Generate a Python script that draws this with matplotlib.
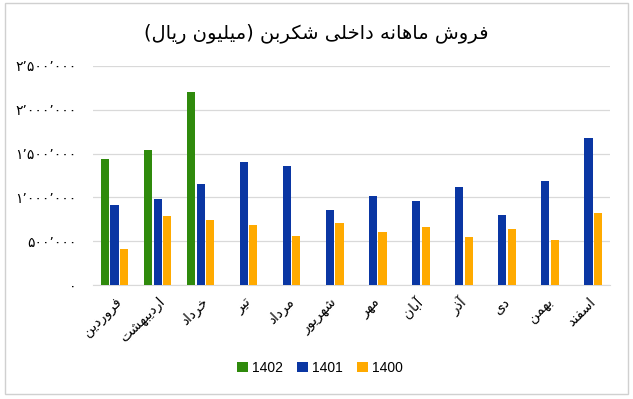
import matplotlib
matplotlib.use("Agg")
import matplotlib.pyplot as plt
import numpy as np
from matplotlib.patches import Rectangle


# داده‌ها: فروش ماهانه (میلیون ریال)
MONTHS = ["فروردین", "اردیبهشت", "خرداد", "تیر", "مرداد", "شهریور",
          "مهر", "آبان", "آذر", "دی", "بهمن", "اسفند"]
SALES_1402 = [1438000, 1541000, 2207000, np.nan, np.nan, np.nan,
              np.nan, np.nan, np.nan, np.nan, np.nan, np.nan]
SALES_1401 = [913000, 985000, 1157000, 1404000, 1362000, 856000,
              1016000, 959000, 1119000, 799000, 1191000, 1682000]
SALES_1400 = [414000, 788000, 742000, 685000, 559000, 711000,
              605000, 662000, 548000, 639000, 517000, 825000]
SERIES_NAMES = ["1402", "1401", "1400"]
Y_TICKS = [0, 500000, 1000000, 1500000, 2000000, 2500000]
Y_TICK_LABELS = ["۰", "۵۰۰٬۰۰۰", "۱٬۰۰۰٬۰۰۰", "۱٬۵۰۰٬۰۰۰", "۲٬۰۰۰٬۰۰۰", "۲٬۵۰۰٬۰۰۰"]
TITLE = "فروش ماهانه داخلی شکربن (میلیون ریال)"

COLORS = ["#2F8A0C", "#0A36A3", "#FFAA00"]

# اشکال حروف: (تنها، پایانی، آغازی، میانی)
FORMS = {
    "ا": ("\uFE8D", "\uFE8E"), "آ": ("\uFE81", "\uFE82"),
    "د": ("\uFEA9", "\uFEAA"), "ذ": ("\uFEAB", "\uFEAC"),
    "ر": ("\uFEAD", "\uFEAE"), "ز": ("\uFEAF", "\uFEB0"),
    "و": ("\uFEED", "\uFEEE"),
    "ب": ("\uFE8F", "\uFE90", "\uFE91", "\uFE92"),
    "ت": ("\uFE95", "\uFE96", "\uFE97", "\uFE98"),
    "خ": ("\uFEA5", "\uFEA6", "\uFEA7", "\uFEA8"),
    "س": ("\uFEB1", "\uFEB2", "\uFEB3", "\uFEB4"),
    "ش": ("\uFEB5", "\uFEB6", "\uFEB7", "\uFEB8"),
    "ف": ("\uFED1", "\uFED2", "\uFED3", "\uFED4"),
    "ل": ("\uFEDD", "\uFEDE", "\uFEDF", "\uFEE0"),
    "م": ("\uFEE1", "\uFEE2", "\uFEE3", "\uFEE4"),
    "ن": ("\uFEE5", "\uFEE6", "\uFEE7", "\uFEE8"),
    "ه": ("\uFEE9", "\uFEEA", "\uFEEB", "\uFEEC"),
    "ی": ("\uFBFC", "\uFBFD", "\uFBFE", "\uFBFF"),
    "ک": ("\uFB8E", "\uFB8F", "\uFB90", "\uFB91"),
}


def rtl(text):
    """شکل‌دهی ساده حروف فارسی و برگرداندن ترتیب برای نمایش."""
    out = []
    n = len(text)
    for i, c in enumerate(text):
        if c not in FORMS:
            out.append(c)
            continue
        prev_join = i > 0 and text[i - 1] in FORMS and len(FORMS[text[i - 1]]) == 4
        next_join = len(FORMS[c]) == 4 and i + 1 < n and text[i + 1] in FORMS
        if prev_join and next_join:
            out.append(FORMS[c][3])
        elif prev_join:
            out.append(FORMS[c][1])
        elif next_join:
            out.append(FORMS[c][2])
        else:
            out.append(FORMS[c][0])
    swap = {"(": ")", ")": "("}
    return "".join(swap.get(c, c) for c in reversed(out))


def main():
    plt.rcParams["font.family"] = ["DejaVu Sans"]
    fig = plt.figure(figsize=(6.33, 3.99), dpi=100)
    ax = fig.add_axes([0.147, 0.2857, 0.8167, 0.549])

    x = np.arange(len(MONTHS))
    width = 0.19
    step = 0.22
    for k, values in enumerate([SALES_1402, SALES_1401, SALES_1400]):
        ax.bar(x + (k - 1) * step, values, width, color=COLORS[k],
               label=SERIES_NAMES[k], zorder=3)

    ax.set_xlim(-0.5, len(MONTHS) - 0.5)
    ax.set_ylim(0, 2500000)
    ax.set_yticks(Y_TICKS)
    ax.set_yticklabels(Y_TICK_LABELS, fontsize=10)
    ax.set_xticks(x)
    ax.set_xticklabels([rtl(m) for m in MONTHS], rotation=45, ha="right",
                       rotation_mode="anchor", fontsize=10)
    ax.grid(axis="y", color="#D9D9D9", linewidth=0.9, zorder=0)
    ax.tick_params(axis="y", length=0, pad=12)
    ax.tick_params(axis="x", length=0, pad=7)
    for side in ["top", "right", "left"]:
        ax.spines[side].set_visible(False)
    ax.spines["bottom"].set_color("#D9D9D9")

    fig.text(0.5, 0.915, rtl(TITLE), ha="center", va="center", fontsize=14)

    fig.legend(loc="center", bbox_to_anchor=(0.505, 0.078), ncol=3,
               frameon=False, handlelength=0.8, handleheight=0.8,
               handletextpad=0.3, columnspacing=1.0,
               prop={"family": "Liberation Sans", "size": 10})

    fig.patches.append(Rectangle((0.008, 0.012), 0.984, 0.98,
                                 transform=fig.transFigure, fill=False,
                                 edgecolor="#D0D0D0", linewidth=1))

    fig.savefig("out.png", dpi=100)
    plt.close(fig)


if __name__ == "__main__":
    main()
